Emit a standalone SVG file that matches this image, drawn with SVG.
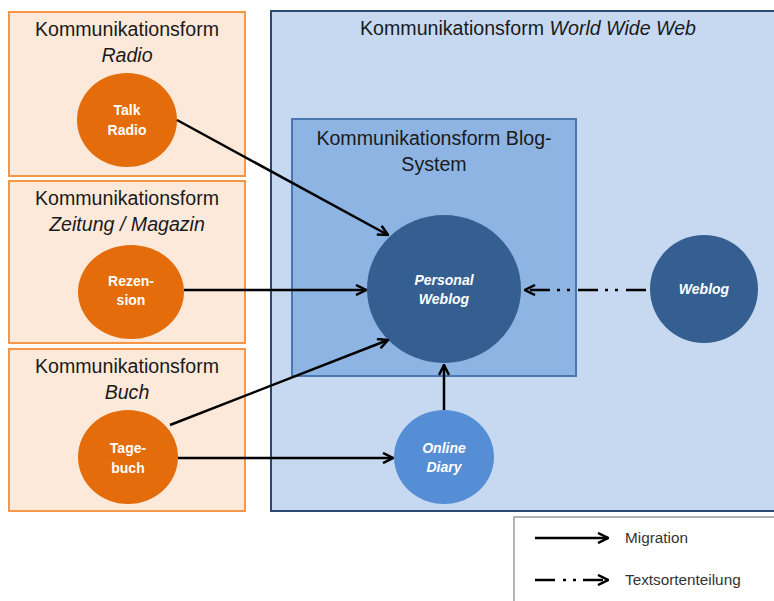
<svg xmlns="http://www.w3.org/2000/svg" width="774" height="601" viewBox="0 0 774 601">
<style>
.frame{fill:#FDE9D9;stroke:#F79646;stroke-width:2}
.title{font-family:"Liberation Sans",Arial,sans-serif;font-size:19.6px;fill:#1a1a1a;text-anchor:middle}
.it{font-style:italic}
.orange{fill:#E46C0A}
.dark{fill:#365F91}
.light{fill:#558ED5}
.lbl{font-family:"Liberation Sans",Arial,sans-serif;font-size:14px;font-weight:bold;fill:#ffffff;text-anchor:middle}
.conn{stroke:#000;stroke-width:2.5;fill:none}
.leg{font-family:"Liberation Sans",Arial,sans-serif;font-size:15.3px;fill:#333}
</style>
<defs>
<marker id="ah" viewBox="0 0 12 12" refX="11" refY="6" markerWidth="12" markerHeight="12" markerUnits="userSpaceOnUse" orient="auto">
<path d="M1,1 L11,6 L1,11" fill="none" stroke="#000" stroke-width="2.5"/>
</marker>
</defs>
<rect width="774" height="601" fill="#ffffff"/>

<g id="www">
<rect x="271" y="11" width="506" height="500" fill="#C6D9F1" stroke="#2B4A73" stroke-width="2"/>
<text class="title" x="528" y="35">Kommunikationsform <tspan class="it">World Wide Web</tspan></text>
</g>

<g id="blogsystem">
<rect x="292" y="119" width="284" height="257" fill="#8DB4E2" stroke="#4A77B0" stroke-width="2"/>
<text class="title" x="434" y="145">Kommunikationsform Blog-</text>
<text class="title" x="434" y="171">System</text>
</g>

<g id="radio">
<rect class="frame" x="9" y="12" width="236" height="164"/>
<text class="title" x="127" y="36">Kommunikationsform</text>
<text class="title it" x="127" y="62">Radio</text>
</g>

<g id="zeitung">
<rect class="frame" x="9" y="181" width="236" height="162"/>
<text class="title" x="127" y="205">Kommunikationsform</text>
<text class="title it" x="127" y="231">Zeitung / Magazin</text>
</g>

<g id="buch">
<rect class="frame" x="9" y="349" width="236" height="162"/>
<text class="title" x="127" y="373">Kommunikationsform</text>
<text class="title it" x="127" y="399">Buch</text>
</g>

<g id="talkradio">
<ellipse class="orange" cx="127" cy="120" rx="50" ry="47"/>
<text class="lbl" x="127" y="115">Talk</text>
<text class="lbl" x="127" y="135">Radio</text>
</g>

<g id="rezension">
<ellipse class="orange" cx="131" cy="292" rx="53" ry="47"/>
<text class="lbl" x="131" y="286">Rezen-</text>
<text class="lbl" x="131" y="305">sion</text>
</g>

<g id="tagebuch">
<ellipse class="orange" cx="128" cy="457" rx="50" ry="47"/>
<text class="lbl" x="128" y="453">Tage-</text>
<text class="lbl" x="128" y="473">buch</text>
</g>

<g id="personalweblog">
<ellipse class="dark" cx="444" cy="289" rx="77" ry="74"/>
<text class="lbl it" x="444" y="285">Personal</text>
<text class="lbl it" x="444" y="304">Weblog</text>
</g>

<g id="weblog">
<ellipse class="dark" cx="704" cy="289" rx="54" ry="54"/>
<text class="lbl it" x="704" y="294">Weblog</text>
</g>

<g id="onlinediary">
<ellipse class="light" cx="444" cy="457" rx="50" ry="47"/>
<text class="lbl it" x="444" y="453">Online</text>
<text class="lbl it" x="444" y="472">Diary</text>
</g>

<g id="connectors">
<line class="conn" x1="177" y1="120" x2="388" y2="235" marker-end="url(#ah)"/>
<line class="conn" x1="184" y1="290" x2="366" y2="290" marker-end="url(#ah)"/>
<line class="conn" x1="170" y1="425" x2="388" y2="340" marker-end="url(#ah)"/>
<line class="conn" x1="178" y1="458" x2="393" y2="458" marker-end="url(#ah)"/>
<line class="conn" x1="444" y1="410" x2="444" y2="365" marker-end="url(#ah)"/>
<line class="conn" x1="646" y1="290" x2="525" y2="290" stroke-dasharray="20 8 3 7 3 7" marker-end="url(#ah)"/>
</g>

<g id="legend">
<rect x="514" y="517" width="262" height="86" fill="#ffffff" stroke="#9a9a9a" stroke-width="1.5"/>
<line class="conn" x1="535" y1="538" x2="608" y2="538" marker-end="url(#ah)"/>
<text class="leg" x="625" y="543">Migration</text>
<line class="conn" x1="535" y1="580" x2="608" y2="580" stroke-dasharray="20 8 3 7 3 7" marker-end="url(#ah)"/>
<text class="leg" x="625" y="585">Textsortenteilung</text>
</g>
</svg>
